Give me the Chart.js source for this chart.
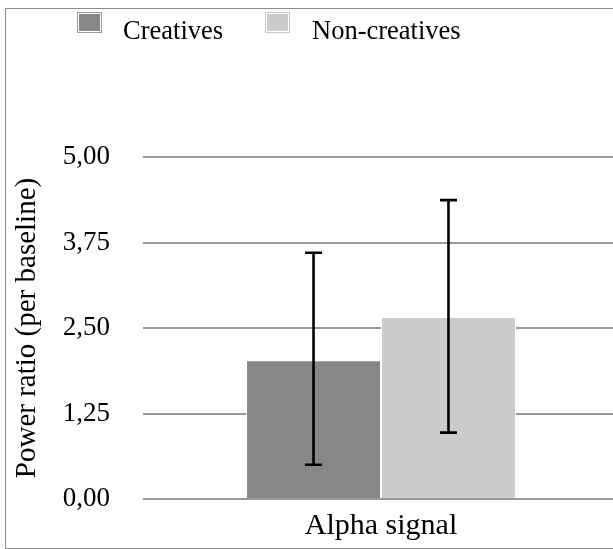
<!DOCTYPE html>
<html>
<head>
<meta charset="utf-8">
<script src="https://cdn.jsdelivr.net/npm/chart.js@4.4.0/dist/chart.umd.min.js"></script>
<style>
  html, body { margin: 0; padding: 0; background: #fff; overflow: hidden; }
  #wrap { position: relative; width: 613px; height: 549px; overflow: hidden; }
  #frame {
    position: absolute; left: 5px; top: 8px; width: 700px; height: 541px;
    border: 1px solid #8c8c8c; box-sizing: border-box;
  }
  #chart { position: absolute; left: 0; top: 0; }
  .swatch {
    position: absolute; top: 12px; width: 25px; height: 21px;
    box-sizing: border-box; border: 1px solid #9a9a9a; padding: 1px;
    background-clip: content-box;
  }
  .label {
    position: absolute; top: 17px; white-space: nowrap;
    font-family: "Times New Roman", "Liberation Serif", serif;
    font-size: 26.5px; line-height: 26.5px; color: #000;
  }
</style>
</head>
<body>
<div id="wrap">
  <div id="frame"></div>
  <canvas id="chart" width="625" height="549"></canvas>
  <div id="legend"></div>
</div>
<script>
const categories = ["Alpha signal"];
const seriesNames = ["Creatives", "Non-creatives"];
const seriesColors = ["#878787", "#cccccc"];
const creatives = [2.03];
const nonCreatives = [2.66];
// error bar ends, one entry per series
const errLow = [0.50, 0.97];
const errHigh = [3.60, 4.37];
const yTickLabels = ["0,00", "1,25", "2,50", "3,75", "5,00"];

const fontFamily = "'Times New Roman', 'Liberation Serif', serif";

// legend as plain html
const legendSpots = [[77, 123], [265, 312]];
const legend = document.getElementById("legend");
seriesNames.forEach((name, i) => {
  const sw = document.createElement("div");
  sw.className = "swatch";
  sw.style.left = legendSpots[i][0] + "px";
  sw.style.backgroundColor = seriesColors[i];
  if (i === 1) sw.style.borderColor = "#c8c8c8";
  const tx = document.createElement("div");
  tx.className = "label";
  tx.style.left = legendSpots[i][1] + "px";
  tx.textContent = name;
  legend.appendChild(sw);
  legend.appendChild(tx);
});

// vertical error bars with caps
const errorBars = {
  id: "errorBars",
  afterDatasetsDraw(chart) {
    const { ctx, scales } = chart;
    const y = scales.y;
    ctx.save();
    ctx.strokeStyle = "#000";
    ctx.lineWidth = 2.6;
    chart.data.datasets.forEach((ds, i) => {
      chart.getDatasetMeta(i).data.forEach((bar) => {
        const x = bar.x;
        const top = y.getPixelForValue(errHigh[i]);
        const bot = y.getPixelForValue(errLow[i]);
        ctx.beginPath();
        ctx.moveTo(x, top);
        ctx.lineTo(x, bot);
        ctx.moveTo(x - 8.5, top);
        ctx.lineTo(x + 8.5, top);
        ctx.moveTo(x - 8.5, bot);
        ctx.lineTo(x + 8.5, bot);
        ctx.stroke();
      });
    });
    ctx.restore();
  },
};

new Chart(document.getElementById("chart"), {
  type: "bar",
  data: {
    labels: categories,
    datasets: [
      {
        label: seriesNames[0],
        data: creatives,
        backgroundColor: seriesColors[0],
        borderColor: "#ffffff",
        borderWidth: 1,
      },
      {
        label: seriesNames[1],
        data: nonCreatives,
        backgroundColor: seriesColors[1],
        borderColor: "#ffffff",
        borderWidth: 1,
      },
    ],
  },
  options: {
    responsive: false,
    animation: false,
    layout: { padding: { top: 157, right: 6, bottom: 0, left: 0 } },
    categoryPercentage: 0.567,
    barPercentage: 1,
    plugins: {
      legend: { display: false },
      tooltip: { enabled: false },
    },
    scales: {
      x: {
        grid: { display: false, drawTicks: false },
        border: { display: false },
        ticks: { color: "#000", padding: 9, font: { family: fontFamily, size: 30 } },
        afterFit(scale) { scale.height = 50; },
      },
      y: {
        min: 0,
        max: 5,
        ticks: {
          stepSize: 1.25,
          padding: 33,
          color: "#000",
          font: { family: fontFamily, size: 27 },
          callback: (v, i) => yTickLabels[i],
        },
        grid: { color: "#999999", lineWidth: 2, drawTicks: false },
        border: { display: false },
        title: {
          display: true,
          text: "Power ratio (per baseline)",
          color: "#000",
          font: { family: fontFamily, size: 29 },
          padding: { top: 10, bottom: 0 },
        },
        afterFit(scale) { scale.width = 143; },
      },
    },
  },
  plugins: [errorBars],
});
</script>
</body>
</html>
